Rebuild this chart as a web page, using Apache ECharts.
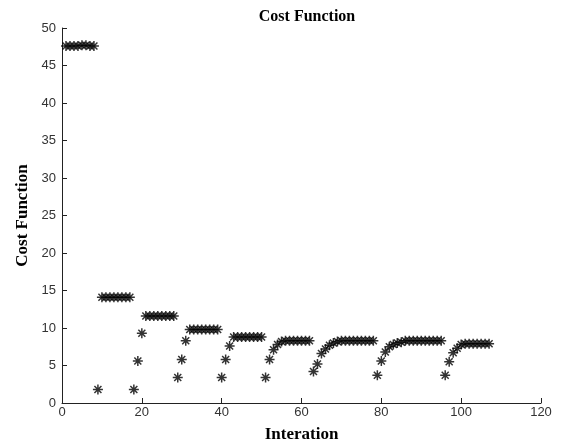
<!DOCTYPE html>
<html>
<head>
<meta charset="utf-8">
<script src="https://cdn.jsdelivr.net/npm/echarts@6/dist/echarts.min.js"></script>
<style>
  html, body { margin: 0; padding: 0; background: #fff; }
  #main { width: 565px; height: 446px; }
</style>
</head>
<body>
<div id="main"></div>
<script>
// iteration number and cost value
var iteration = [
  1, 2, 3, 4, 5, 6, 7, 8, 9,
  10, 11, 12, 13, 14, 15, 16, 17, 18,
  19, 20, 21, 22, 23, 24, 25, 26, 27, 28,
  29, 30, 31, 32, 33, 34, 35, 36, 37, 38, 39,
  40, 41, 42, 43, 44, 45, 46, 47, 48, 49, 50,
  51, 52, 53, 54, 55, 56, 57, 58, 59, 60, 61, 62,
  63, 64, 65, 66, 67, 68, 69, 70, 71, 72, 73, 74, 75, 76, 77, 78,
  79, 80, 81, 82, 83, 84, 85, 86, 87, 88, 89, 90, 91, 92, 93, 94, 95,
  96, 97, 98, 99, 100, 101, 102, 103, 104, 105, 106, 107
];
var cost = [
  47.6, 47.6, 47.6, 47.6, 47.7, 47.7, 47.6, 47.6, 1.8,
  14.1, 14.1, 14.1, 14.1, 14.1, 14.1, 14.1, 14.1, 1.8,
  5.6, 9.3, 11.6, 11.6, 11.6, 11.6, 11.6, 11.6, 11.6, 11.6,
  3.4, 5.8, 8.3, 9.8, 9.8, 9.8, 9.8, 9.8, 9.8, 9.8, 9.8,
  3.4, 5.8, 7.6, 8.8, 8.8, 8.8, 8.8, 8.8, 8.8, 8.8, 8.8,
  3.4, 5.8, 7.1, 7.8, 8.2, 8.3, 8.3, 8.3, 8.3, 8.3, 8.3, 8.3,
  4.2, 5.2, 6.6, 7.2, 7.7, 8.0, 8.2, 8.3, 8.3, 8.3, 8.3, 8.3, 8.3, 8.3, 8.3, 8.3,
  3.7, 5.6, 6.8, 7.5, 7.8, 8.0, 8.1, 8.3, 8.3, 8.3, 8.3, 8.3, 8.3, 8.3, 8.3, 8.3, 8.3,
  3.7, 5.5, 6.7, 7.3, 7.8, 7.9, 7.9, 7.9, 7.9, 7.9, 7.9, 7.9
];

var points = iteration.map(function (x, i) {
  return [x, cost[i]];
});

// asterisk marker like matlab '*'
var star = 'path://M0,-10L0,10M-10,0L10,0M-7,-7L7,7M-7,7L7,-7';

var chart = echarts.init(document.getElementById('main'), null, { renderer: 'canvas' });

var option = {
  animation: false,
  backgroundColor: '#fff',
  title: {
    text: 'Cost Function',
    left: 302,
    top: 4,
    textAlign: 'center',
    textStyle: {
      fontFamily: 'Liberation Serif',
      fontWeight: 'bold',
      fontSize: 16,
      color: '#000'
    }
  },
  grid: {
    left: 62,
    right: 24,
    top: 28,
    bottom: 43,
    containLabel: false,
    outerBoundsMode: 'none'
  },
  xAxis: {
    type: 'value',
    min: 0,
    max: 120,
    interval: 20,
    name: 'Interation',
    nameLocation: 'middle',
    nameGap: 23,
    nameTextStyle: {
      fontFamily: 'Liberation Serif',
      fontWeight: 'bold',
      fontSize: 17,
      color: '#000'
    },
    axisLine: { onZero: false, lineStyle: { color: '#222', width: 1 } },
    axisTick: { inside: true, length: 5, lineStyle: { color: '#222' } },
    axisLabel: {
      margin: 3,
      fontFamily: 'Liberation Sans',
      fontSize: 13,
      color: '#333'
    },
    splitLine: { show: false }
  },
  yAxis: {
    type: 'value',
    min: 0,
    max: 50,
    interval: 5,
    name: 'Cost Function',
    nameLocation: 'middle',
    nameGap: 31,
    nameTextStyle: {
      fontFamily: 'Liberation Serif',
      fontWeight: 'bold',
      fontSize: 17,
      color: '#000'
    },
    axisLine: { show: true, onZero: false, lineStyle: { color: '#222', width: 1 } },
    axisTick: { show: true, inside: true, length: 5, lineStyle: { color: '#222' } },
    axisLabel: {
      margin: 6,
      fontFamily: 'Liberation Sans',
      fontSize: 13,
      color: '#333'
    },
    splitLine: { show: false }
  },
  series: [{
    type: 'scatter',
    data: points,
    symbol: star,
    symbolSize: 10,
    itemStyle: {
      color: '#000',
      borderColor: '#000',
      borderWidth: 1.5
    }
  }]
};

chart.setOption(option);
</script>
</body>
</html>
